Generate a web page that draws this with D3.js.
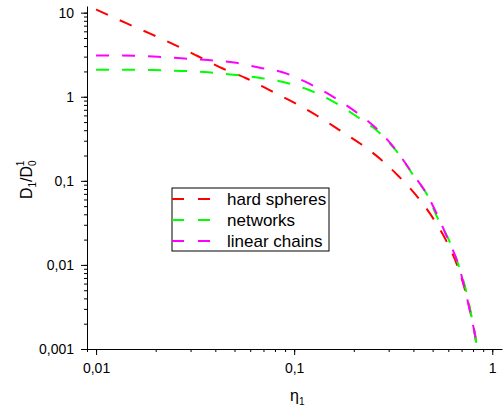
<!DOCTYPE html>
<html>
<head>
<meta charset="utf-8">
<script src="https://cdn.jsdelivr.net/npm/d3@7"></script>
<style>
  body { margin: 0; background: #fff; }
  text { font-family: "Liberation Sans", Arial, sans-serif; fill: #000; }
</style>
</head>
<body>
<script>
// values
var hardEta = [0.01, 0.0142, 0.019, 0.0248, 0.0327, 0.0433, 0.0572, 0.0756, 0.101, 0.1306, 0.167, 0.218, 0.275, 0.335, 0.423, 0.509, 0.593, 0.67, 0.731, 0.783, 0.83, 0.86];
var hardD   = [10.9, 7.5, 5.55, 4.16, 3.03, 2.18, 1.66, 1.19, 0.84, 0.594, 0.41, 0.272, 0.178, 0.115, 0.0628, 0.0343, 0.0183, 0.00946, 0.0049, 0.00247, 0.00118, 0.0006];

var netEta = [0.01, 0.0157, 0.0215, 0.0288, 0.0368, 0.0492, 0.0665, 0.091, 0.118, 0.161, 0.208, 0.266, 0.327, 0.413, 0.47, 0.53, 0.61, 0.68, 0.74, 0.79, 0.83, 0.86];
var netD   = [2.10, 2.10, 2.06, 2.02, 1.95, 1.83, 1.68, 1.47, 1.21, 0.85, 0.578, 0.383, 0.228, 0.104, 0.068, 0.036, 0.0188, 0.0095, 0.0048, 0.0023, 0.0012, 0.0006];

var chainEta = [0.01, 0.0157, 0.0215, 0.0269, 0.0368, 0.0497, 0.0672, 0.089, 0.113, 0.156, 0.203, 0.257, 0.32, 0.4, 0.46, 0.53, 0.60, 0.675, 0.73, 0.78, 0.83, 0.86];
var chainD   = [3.1, 3.08, 2.97, 2.86, 2.73, 2.56, 2.21, 1.93, 1.52, 1.01, 0.67, 0.43, 0.247, 0.118, 0.074, 0.0385, 0.0198, 0.01, 0.005, 0.0025, 0.0012, 0.0006];

var seriesNames = ['hard spheres', 'networks', 'linear chains'];
var seriesColors = ['#ff0000', '#00ff00', '#ff00ff'];

var xTicks = [0.01, 0.1, 1];
var xTickLabels = ['0,01', '0,1', '1'];
var yTicks = [0.001, 0.01, 0.1, 1, 10];
var yTickLabels = ['0,001', '0,01', '0,1', '1', '10'];

var svg;
var x, y;

initializeChart();

function minorTicks(lo, hi) {
  var out = [];
  for (var p = -4; p <= 2; p++) {
    for (var m = 1; m < 10; m++) {
      var v = m * Math.pow(10, p);
      if (v >= lo * 0.9999 && v <= hi * 1.0001) out.push(v);
    }
  }
  return out;
}

function initializeChart() {
  svg = d3.select('body')
          .append('svg')
            .attr('width', 504)
            .attr('height', 410);

  x = d3.scaleLog().domain([0.009, 1.12]).range([87, 502]);
  y = d3.scaleLog().domain([0.001, 12]).range([349, 6]);

  svg.append('clipPath')
      .attr('id', 'plot-clip')
    .append('rect')
      .attr('x', 87)
      .attr('y', 0)
      .attr('width', 415)
      .attr('height', 349);

  var line = d3.line()
    .x(function(d){ return x(d[0]); })
    .y(function(d){ return y(d[1]); })
    .curve(d3.curveMonotoneX);

  var series = [
    d3.zip(hardEta, hardD),
    d3.zip(netEta, netD),
    d3.zip(chainEta, chainD)
  ];

  svg.append('g')
      .attr('clip-path', 'url(#plot-clip)')
    .selectAll('path')
    .data(series)
    .enter()
    .append('path')
      .attr('d', line)
      .attr('fill', 'none')
      .attr('stroke', function(d, i){ return seriesColors[i]; })
      .attr('stroke-width', 2)
      .attr('stroke-dasharray', '13,13');

  // x axis: minor then major
  svg.append('g')
      .attr('transform', 'translate(0,349)')
      .call(d3.axisBottom(x).tickValues(minorTicks(0.009, 1.12)).tickSize(3).tickFormat(''))
      .call(function(g){ g.select('.domain').remove(); });

  svg.append('g')
      .attr('transform', 'translate(0,349)')
      .call(d3.axisBottom(x).tickValues(xTicks).tickSize(6).tickSizeOuter(0).tickPadding(8)
        .tickFormat(function(d, i){ return xTickLabels[i]; }))
      .call(function(g){
        g.selectAll('text').style('font-size', '14px').attr('fill', '#000');
      });

  // y axis
  svg.append('g')
      .attr('transform', 'translate(87,0)')
      .call(d3.axisLeft(y).tickValues(minorTicks(0.001, 12)).tickSize(3).tickFormat(''))
      .call(function(g){ g.select('.domain').remove(); });

  svg.append('g')
      .attr('transform', 'translate(87,0)')
      .call(d3.axisLeft(y).tickValues(yTicks).tickSize(6).tickSizeOuter(0).tickPadding(7)
        .tickFormat(function(d, i){ return yTickLabels[i]; }))
      .call(function(g){
        g.selectAll('text').style('font-size', '14px').attr('fill', '#000');
      });

  // axis titles
  var xt = svg.append('text')
      .attr('x', 290)
      .attr('y', 401)
      .style('font-size', '16px');
  xt.append('tspan').text('η');
  xt.append('tspan').attr('dy', 4).style('font-size', '10px').text('1');

  var yt = svg.append('text')
      .attr('transform', 'translate(32,199) rotate(-90)')
      .style('font-size', '16px');
  yt.append('tspan').text('D');
  yt.append('tspan').attr('dy', 4).style('font-size', '10px').text('1');
  yt.append('tspan').attr('dy', -4).text('/D');
  yt.append('tspan').attr('dy', 4).style('font-size', '10px').text('0');
  yt.append('tspan').attr('dx', -6).attr('dy', -12).style('font-size', '10px').text('1');

  // legend
  var legend = svg.append('g');
  legend.append('rect')
      .attr('x', 172)
      .attr('y', 188)
      .attr('width', 157)
      .attr('height', 63)
      .attr('fill', '#fff')
      .attr('stroke', '#000')
      .attr('stroke-width', 1);

  var items = legend.selectAll('g.item')
    .data(seriesNames)
    .enter()
    .append('g')
      .attr('class', 'item')
      .attr('transform', function(d, i){ return 'translate(0,' + (199 + i * 21) + ')'; });

  items.append('line')
      .attr('x1', 172)
      .attr('x2', 212)
      .attr('stroke', function(d, i){ return seriesColors[i]; })
      .attr('stroke-width', 2)
      .attr('stroke-dasharray', '12,14');

  items.append('text')
      .attr('x', 227)
      .attr('y', 6)
      .style('font-size', '17px')
      .text(function(d){ return d; });
}
</script>
</body>
</html>
